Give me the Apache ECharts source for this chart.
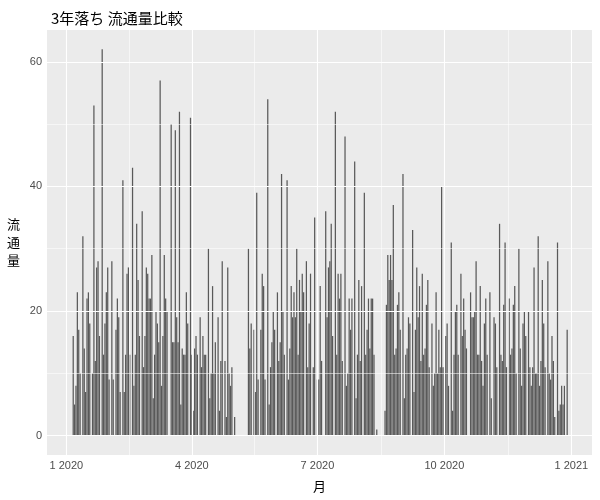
<!DOCTYPE html>
<html><head><meta charset="utf-8">
<script src="https://cdn.jsdelivr.net/npm/echarts@6/dist/echarts.min.js"></script>
<style>html,body{margin:0;padding:0;background:#fff}#c{width:600px;height:500px}</style>
</head><body><div id="c"></div>
<script>
// days since 2020-01-01
const dayIndex = [
5,6,7,8,9,10,12,13,14,15,16,17,19,20,21,22,23,24,26,27,28,29,30,31,
33,34,36,37,38,39,41,42,43,44,45,46,48,49,50,51,52,53,55,56,57,58,59,60,61,62,63,64,65,66,67,
68,69,70,71,72,73,76,77,78,79,80,81,82,83,84,85,86,87,88,90,91,92,93,94,95,97,98,99,100,
101,103,104,105,106,107,108,110,111,112,113,115,116,117,118,119,120,122,132,133,134,
136,137,138,139,141,142,143,144,146,147,148,149,150,151,153,154,155,156,157,158,160,161,162,163,164,165,166,167,168,169,
170,171,172,174,175,176,177,179,180,182,183,184,185,188,189,190,191,192,193,195,196,197,198,199,200,202,203,
204,205,206,207,209,210,211,212,213,214,216,217,218,219,220,221,222,223,225,231,232,233,234,235,236,237,
238,239,240,241,242,244,245,246,247,248,249,251,252,253,254,255,256,257,258,259,260,261,262,263,265,266,267,268,269,270,271,
272,273,274,275,276,277,279,280,281,282,283,284,286,287,288,289,290,293,294,295,296,297,298,299,300,301,302,303,304,305,
307,308,310,311,312,314,315,316,317,318,319,321,322,323,324,325,326,328,329,330,331,332,333,335,336,337,338,339,340,
341,342,343,344,345,346,347,349,350,351,352,353,354,356,357,358,359,360,361,363
];
const values = [
16,5,8,23,17,10,32,14,7,22,23,18,10,53,12,27,28,16,62,13,18,23,27,9,
28,9,17,22,19,7,41,7,13,26,27,13,43,8,13,34,25,16,36,11,16,27,26,22,22,29,6,13,20,18,15,
57,8,16,29,22,20,50,15,15,49,19,15,52,5,14,13,13,23,18,51,13,4,14,16,13,19,11,16,13,
13,30,6,10,24,10,15,19,4,12,28,12,3,27,10,8,11,3,30,14,18,
17,7,39,9,17,26,24,9,54,5,11,15,20,17,23,12,15,42,20,13,41,9,14,24,19,23,19,30,13,25,
20,26,23,28,11,18,26,11,35,9,9,24,12,36,19,27,28,34,16,52,13,26,22,26,12,48,8,
10,22,17,22,44,6,13,25,12,24,39,13,17,22,14,22,22,13,1,4,21,29,25,29,25,37,
13,14,21,23,17,42,6,13,14,19,18,33,7,17,27,19,24,12,26,13,14,21,25,11,18,8,10,23,10,17,11,
40,11,11,16,18,8,31,4,13,20,21,13,26,16,22,17,14,23,19,19,20,28,13,13,24,12,8,18,22,13,
23,6,19,18,11,34,13,12,21,31,11,22,13,14,21,24,10,30,14,8,18,20,16,20,11,8,11,27,10,
10,32,8,12,25,18,11,28,10,9,16,12,3,31,4,5,8,5,8,17
];
const xTickDays = [0, 91, 182, 274, 366];
const xTickLabels = ['1 2020', '4 2020', '7 2020', '10 2020', '1 2021'];
const xMinorDays = [45.5, 136.5, 228, 320];
const yTicks = [0, 20, 40, 60];
const yMinor = [10, 30, 50];

const chart = echarts.init(document.getElementById('c'), null, {renderer: 'canvas'});
const barData = dayIndex.map((d, i) => [d, values[i]]);
const gridLines = [].concat(
  yMinor.map(v => ({yAxis: v, lineStyle: {width: 0.55}})),
  xMinorDays.map(v => ({xAxis: v, lineStyle: {width: 0.55}})),
  yTicks.map(v => ({yAxis: v, lineStyle: {width: 1.1}})),
  xTickDays.map(v => ({xAxis: v, lineStyle: {width: 1.1}}))
);
const sans = 'Liberation Sans, Arial, sans-serif';
const option = {
  animation: false,
  title: {
    text: '3年落ち 流通量比較', left: 46, top: 6,
    textStyle: {fontSize: 15, fontWeight: 'normal', color: '#000', fontFamily: 'Noto Sans CJK JP'}
  },
  grid: {left: 47, right: 8, top: 30, bottom: 45, show: true, backgroundColor: '#EBEBEB', borderWidth: 0},
  xAxis: {
    type: 'value', min: -14, max: 381,
    name: '月', nameLocation: 'middle', nameGap: 25,
    nameTextStyle: {fontSize: 13, color: '#000', fontFamily: 'Noto Sans CJK JP'},
    axisLine: {show: false},
    axisTick: {show: true, length: 3, customValues: xTickDays, lineStyle: {color: '#333', width: 1}},
    axisLabel: {
      customValues: xTickDays, color: '#4d4d4d', fontSize: 11, margin: 5, fontFamily: sans,
      formatter: v => xTickLabels[xTickDays.indexOf(v)]
    },
    splitLine: {show: false}
  },
  yAxis: {
    type: 'value', min: -3.1, max: 65.1,
    name: '流\n通\n量', nameLocation: 'middle', nameRotate: 0, nameGap: 27,
    nameTextStyle: {fontSize: 13, lineHeight: 18, color: '#000', fontFamily: 'Noto Sans CJK JP'},
    axisLine: {show: false},
    axisTick: {show: true, length: 3, customValues: yTicks, lineStyle: {color: '#333', width: 1}},
    axisLabel: {customValues: yTicks, color: '#4d4d4d', fontSize: 11, margin: 5, fontFamily: sans},
    splitLine: {show: false}
  },
  series: [
    {
      type: 'line', data: [], z: 1, silent: true,
      markLine: {
        silent: true, symbol: 'none', animation: false, label: {show: false},
        lineStyle: {color: '#ffffff', type: 'solid'},
        emphasis: {disabled: true},
        data: gridLines
      }
    },
    {
      type: 'bar', data: barData, barWidth: 1.24, z: 3,
      itemStyle: {color: '#595959'}, silent: true
    }
  ]
};
chart.setOption(option);
const pxPerDay = chart.convertToPixel({xAxisIndex: 0}, 1) - chart.convertToPixel({xAxisIndex: 0}, 0);
chart.setOption({series: [{}, {barWidth: pxPerDay * 0.9}]});
</script></body></html>
